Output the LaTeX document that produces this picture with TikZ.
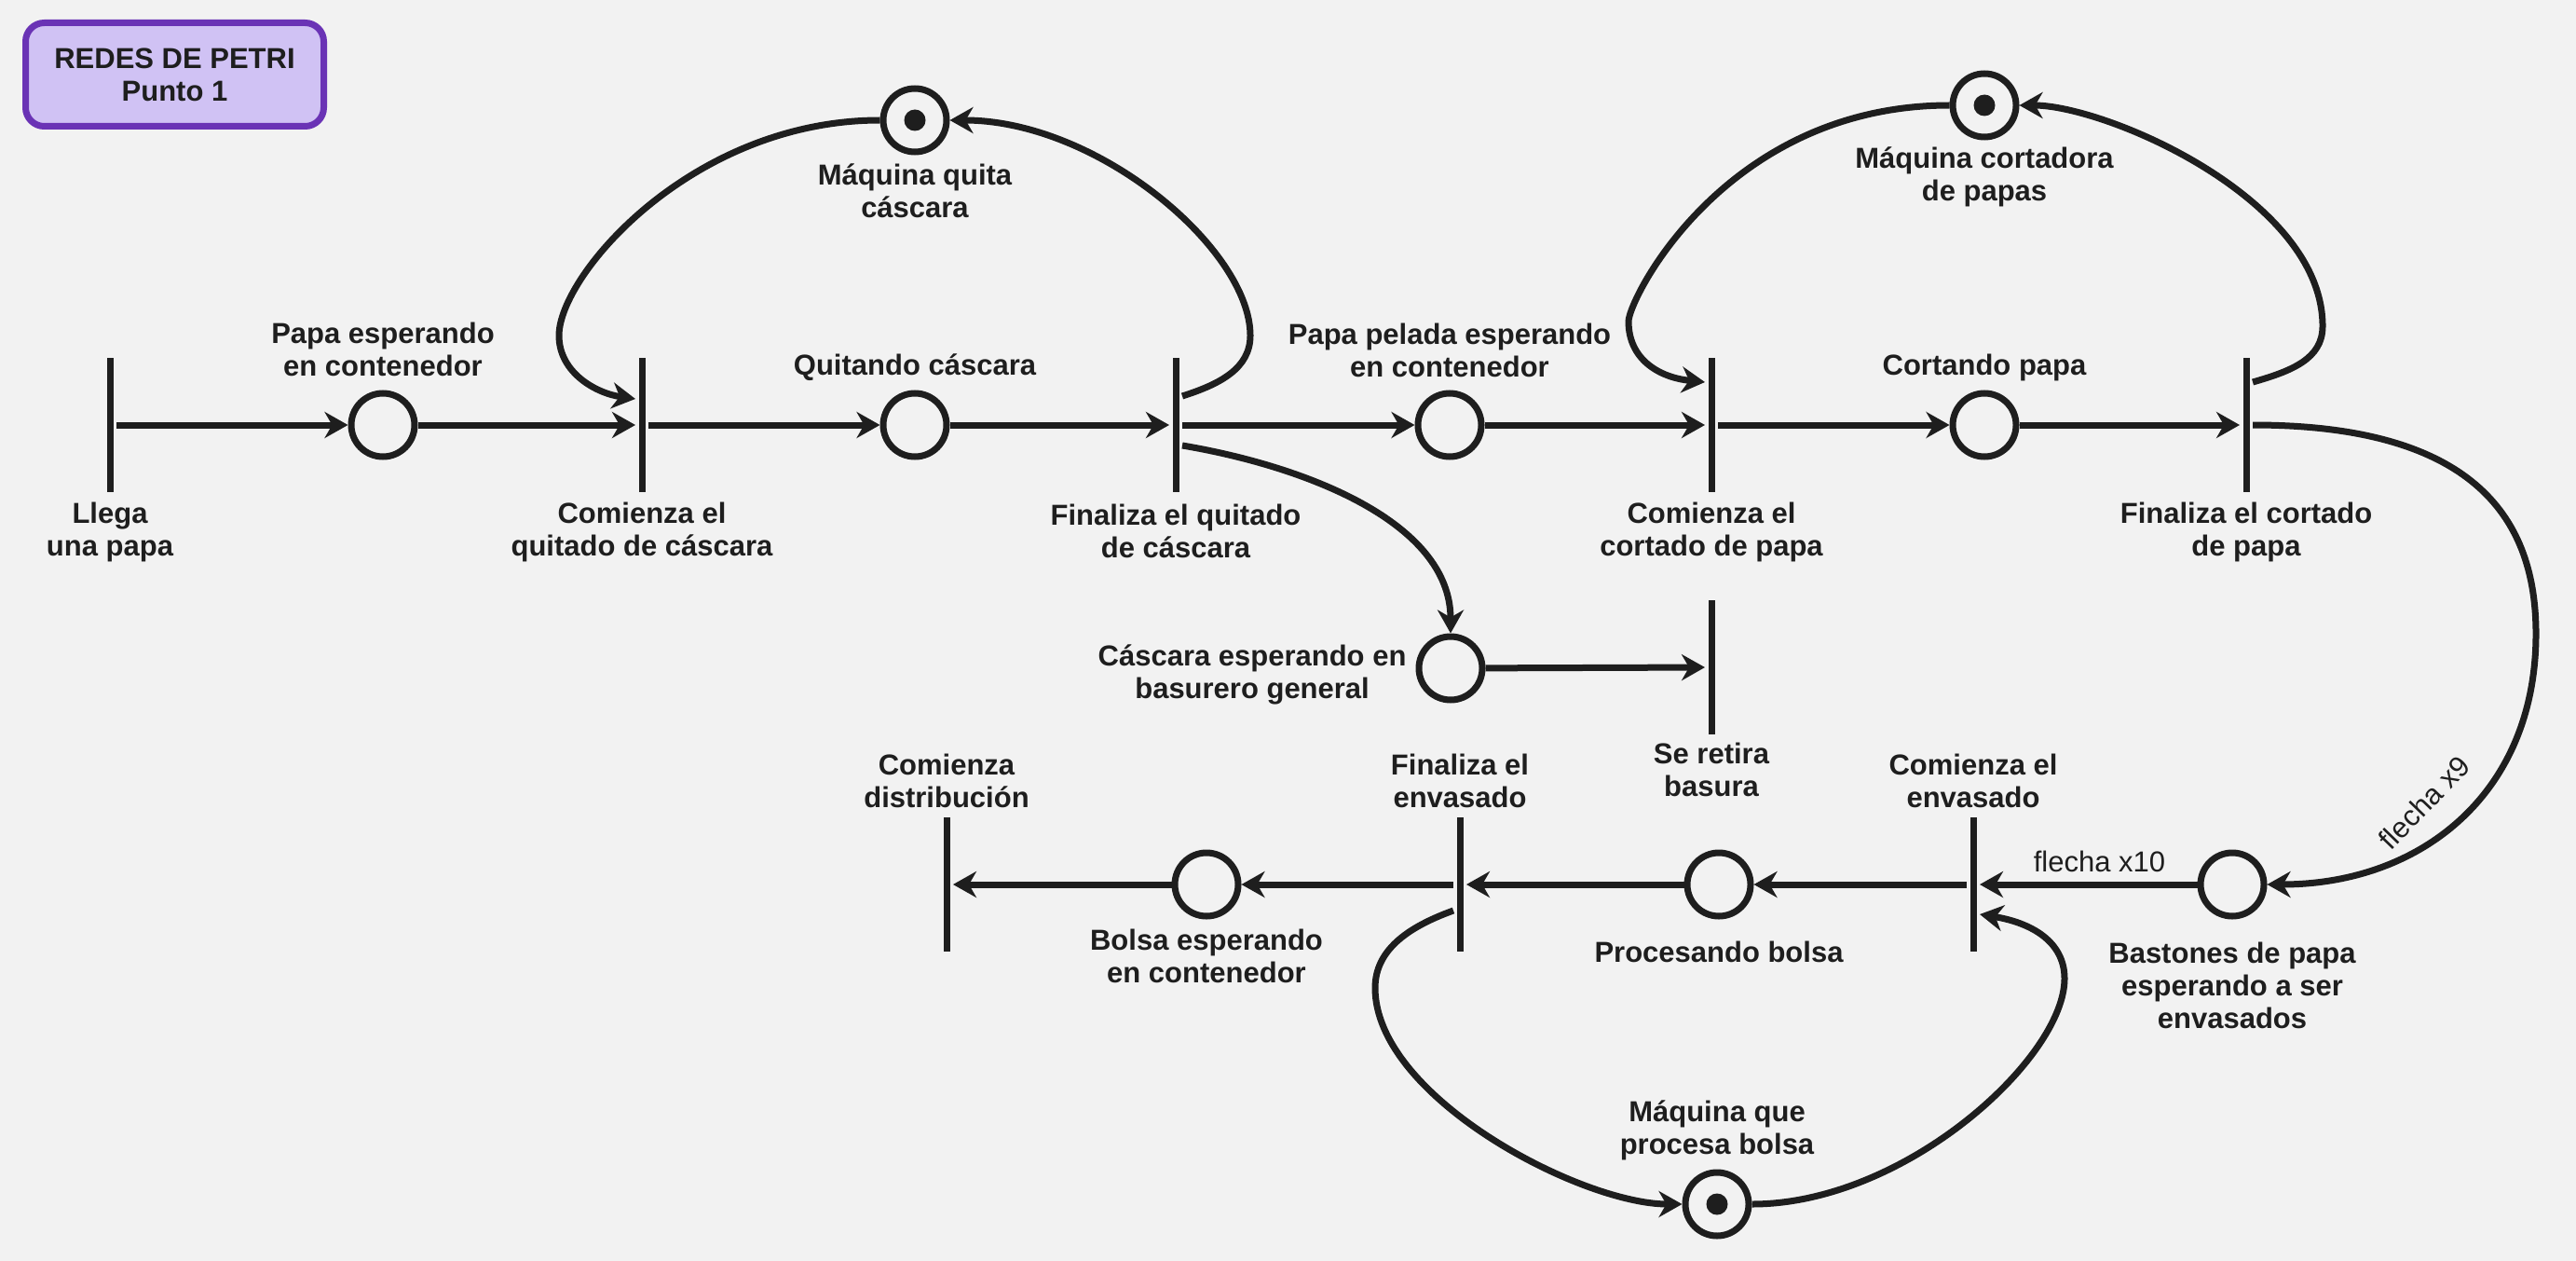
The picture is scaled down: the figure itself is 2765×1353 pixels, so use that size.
\documentclass[tikz,border=0pt]{standalone}
\usepackage{fontspec}
\setmainfont{Liberation Sans}
\usetikzlibrary{arrows.meta}
\definecolor{tinta}{HTML}{1E1E1E}
\definecolor{fondo}{HTML}{F2F2F2}
\definecolor{titulofill}{HTML}{D0C2F4}
\definecolor{titulodraw}{HTML}{6A33B5}
\newcommand{\petrilinea}{3.5pt}
\newcommand{\petriflecha}{-{Stealth[length=12.5pt,width=14pt,inset=4pt]}}
\tikzset{
  lugar/.style={circle, draw=tinta, line width=\petrilinea, minimum size=34pt, inner sep=0pt},
  lugarmarcado/.style={lugar, path picture={\fill[tinta] (path picture bounding box.center) circle (5.75pt);}},
  transicion/.style={rectangle, fill=tinta, minimum width=\petrilinea, minimum height=72pt, inner sep=0pt},
  texto/.style={font=\bfseries\fontsize{15.5}{17.5}\selectfont, text=tinta, align=center, inner sep=0pt},
  textoflecha/.style={font=\fontsize{15.5}{17.5}\selectfont, text=tinta, inner sep=0pt}
}

\begin{document}
\begin{tikzpicture}[x=0.5pt, y=0.5pt, line width=\petrilinea, color=tinta]
        \useasboundingbox (0,0) rectangle (2765,-1353);
        \fill[fondo] (0,0) rectangle (2765,-1353);

        \node[texto, draw=titulodraw, fill=titulofill, rounded corners=10pt, minimum width=160pt, minimum height=55.5pt] (titulo) at (187.5,-80) {REDES DE PETRI\\Punto 1};

        \node[transicion] (llega) at (118,-456) {};
        \node[lugar] (papacont) at (411,-456) {};
        \node[transicion] (comquitado) at (689,-456) {};
        \node[lugar] (quitando) at (982,-456) {};
        \node[transicion] (finquitado) at (1262,-456) {};
        \node[lugar] (peladacont) at (1556,-456) {};
        \node[transicion] (comcortado) at (1837,-456) {};
        \node[lugar] (cortando) at (2130,-456) {};
        \node[transicion] (fincortado) at (2411,-456) {};
        \node[lugarmarcado] (maqquita) at (982,-129) {};
        \node[lugarmarcado] (maqcorta) at (2130,-113) {};
        \node[lugar] (cascara) at (1557,-717) {};
        \node[transicion] (retira) at (1837,-716) {};
        \node[transicion] (distrib) at (1016,-949) {};
        \node[lugar] (bolsacont) at (1295,-949) {};
        \node[transicion] (finenvasado) at (1567,-949) {};
        \node[lugar] (procesando) at (1845,-949) {};
        \node[transicion] (comenvasado) at (2118,-949) {};
        \node[lugar] (bastones) at (2396,-949) {};
        \node[lugarmarcado] (maqbolsa) at (1843,-1292) {};

        \node[texto] (llegatxt) at (118,-571) {Llega\\una papa};
        \node[texto] (papaconttxt) at (411,-375) {Papa esperando\\en contenedor};
        \node[texto] (comquitadotxt) at (689,-571) {Comienza el\\quitado de cáscara};
        \node[texto] (quitandotxt) at (982,-394) {Quitando cáscara};
        \node[texto] (finquitadotxt) at (1262,-570) {Finaliza el quitado\\de cáscara};
        \node[texto] (maqquitatxt) at (982,-205) {Máquina quita\\cáscara};
        \node[texto] (peladaconttxt) at (1556,-376) {Papa pelada esperando\\en contenedor};
        \node[texto] (comcortadotxt) at (1837,-571) {Comienza el\\cortado de papa};
        \node[texto] (cortandotxt) at (2130,-394) {Cortando papa};
        \node[texto] (fincortadotxt) at (2411,-571) {Finaliza el cortado\\de papa};
        \node[texto] (maqcortatxt) at (2130,-190) {Máquina cortadora\\de papas};
        \node[texto, anchor=east] (cascaratxt) at (1513,-724) {Cáscara esperando en\\basurero general};
        \node[texto] (retiratxt) at (1837,-826) {Se retira\\basura};
        \node[texto] (distribtxt) at (1016,-838) {Comienza\\distribución};
        \node[texto] (bolsaconttxt) at (1295,-1026) {Bolsa esperando\\en contenedor};
        \node[texto] (finenvasadotxt) at (1567,-838) {Finaliza el\\envasado};
        \node[texto] (procesandotxt) at (1845,-1021) {Procesando bolsa};
        \node[texto] (comenvasadotxt) at (2118,-838) {Comienza el\\envasado};
        \node[texto] (bastonestxt) at (2396,-1057) {Bastones de papa\\esperando a ser\\envasados};
        \node[texto] (maqbolsatxt) at (1843,-1213) {Máquina que\\procesa bolsa};

        \draw[\petriflecha] (llega) -- (papacont);
        \draw[\petriflecha] (papacont) -- (comquitado);
        \draw[\petriflecha] (comquitado) -- (quitando);
        \draw[\petriflecha] (quitando) -- (finquitado);
        \draw[\petriflecha] (finquitado) -- (peladacont);
        \draw[\petriflecha] (peladacont) -- (comcortado);
        \draw[\petriflecha] (comcortado) -- (cortando);
        \draw[\petriflecha] (cortando) -- (fincortado);
        \draw[\petriflecha] (cascara) -- (retira);
        \draw[\petriflecha] (bastones) -- (comenvasado)
        node[textoflecha, pos=0.45, above=5pt] (flecha10) {flecha x10};
        \draw[\petriflecha] (comenvasado) -- (procesando);
        \draw[\petriflecha] (procesando) -- (finenvasado);
        \draw[\petriflecha] (finenvasado) -- (bolsacont);
        \draw[\petriflecha] (bolsacont) -- (distrib);

        \draw[\petriflecha] (maqquita.west) .. controls (743,-129) and (600,-295) .. (600,-360)
        .. controls (600,-400) and (640,-422) .. ([yshift=14pt]comquitado.west);
        \draw[\petriflecha] ([yshift=15.5pt]finquitado.east) .. controls (1310,-412) and (1342,-395) .. (1342,-360)
        .. controls (1342,-268) and (1179,-129) .. (maqquita.east);
        \draw[\petriflecha] (maqcorta.west) .. controls (1852,-113) and (1748,-321) .. (1748,-345)
        .. controls (1748,-385) and (1780,-405) .. ([yshift=23pt]comcortado.west);
        \draw[\petriflecha] ([yshift=23pt]fincortado.east) .. controls (2460,-398) and (2493,-385) .. (2493,-350)
        .. controls (2493,-213) and (2260,-113) .. (maqcorta.east);
        \draw[\petriflecha] ([yshift=-14pt]finenvasado.west) .. controls (1510,-995) and (1476,-1020) .. (1476,-1060)
        .. controls (1476,-1177) and (1697,-1292) .. (maqbolsa.west);
        \draw[\petriflecha] (maqbolsa.east) .. controls (2045,-1292) and (2216,-1135) .. (2216,-1050)
        .. controls (2216,-1010) and (2180,-990) .. ([yshift=-16pt]comenvasado.east);
        \draw[\petriflecha] ([yshift=-11pt]finquitado.east) .. controls (1400,-500) and (1557,-560) .. (cascara.north);
        \draw[\petriflecha] (fincortado.east) .. controls (2660,-456) and (2722,-560) .. (2722,-680)
        .. controls (2722,-850) and (2600,-949) .. (bastones.east);

        \node[textoflecha, rotate=46] (flecha9) at (2602,-861) {flecha x9};
    \end{tikzpicture}
\end{document}
